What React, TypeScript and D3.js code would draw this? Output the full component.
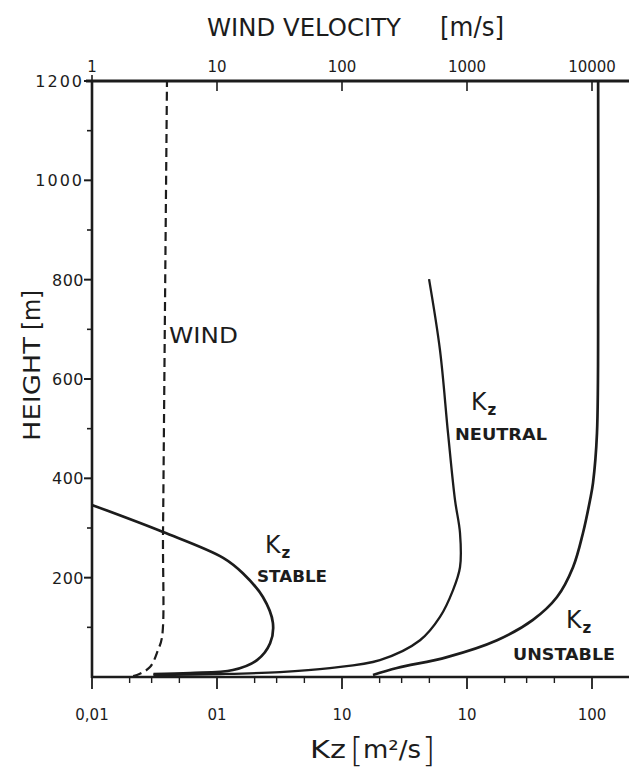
import React from "react";
import * as d3 from "d3";

const W = 629;
const H = 778;

// axis values
const heightMajor = [200, 400, 600, 800, 1000, 1200];
const heightLabels = ["200", "400", "600", "800", "1000", "1200"];
const heightMinor = [100, 300, 500, 700, 900, 1100];
const kzMajor = [0.01, 0.1, 1, 10, 100];
const kzLabels = ["0,01", "01", "10", "10", "100"];
const kzMinor = [0.02, 0.03, 0.05, 0.2, 0.3, 0.5, 2, 3, 5, 20, 30, 50];
const windMajor = [1, 10, 100, 1000, 10000];
const windLabels = ["1", "10", "100", "1000", "10000"];

// curves (height in m, value)
const windH = [2, 4, 20, 54, 80, 292, 759, 1200];
const windV = [2.13, 2.29, 2.91, 3.37, 3.63, 3.7, 3.84, 3.98];

const stableH = [346, 292, 240, 209, 161, 109, 68, 34, 14, 8, 6];
const stableK = [0.0101, 0.037, 0.112, 0.161, 0.233, 0.28, 0.266, 0.209, 0.134, 0.061, 0.031];

const neutralH = [801, 658, 491, 356, 290, 221, 175, 121, 74, 34, 18, 10, 6, 4];
const neutralK = [4.97, 6.08, 7.05, 8.02, 8.79, 8.79, 7.73, 6.08, 4.21, 2.01, 0.8, 0.319, 0.106, 0.031];

const unstableH = [1200, 800, 491, 391, 356, 290, 221, 161, 115, 74, 40, 18, 4];
const unstableK = [112, 112, 109.6, 101.9, 96.4, 84.7, 70.5, 52.5, 33.7, 17.4, 6.92, 2.75, 1.77];

const FONT = "DejaVu Sans, Liberation Sans, sans-serif";
const INK = "#1c1c1c";

export default function App() {
  const x = d3.scaleLog().domain([0.01, 100]).range([92, 592]);
  const xw = d3.scaleLog().domain([1, 10000]).range([92, 592]);
  const y = d3.scaleLinear().domain([0, 1200]).range([677, 81]);
  const xEnd = 629;

  const kzLine = d3
    .line<[number, number]>()
    .x((d) => x(d[0]))
    .y((d) => y(d[1]))
    .curve(d3.curveCatmullRom.alpha(0.5));
  const windLine = d3
    .line<[number, number]>()
    .x((d) => xw(d[0]))
    .y((d) => y(d[1]))
    .curve(d3.curveCatmullRom.alpha(0.5));

  const zip = (a: number[], b: number[]) => a.map((v, i) => [v, b[i]] as [number, number]);

  const y0 = y(0);
  const y1 = y(1200);
  const x0 = x(0.01);

  const Kz = (xx: number, yy: number, size = 25, zsize = 15) => (
    <g>
      <text x={xx} y={yy} fontSize={size} fontFamily={FONT} fill={INK} textLength={size * 0.62} lengthAdjust="spacingAndGlyphs">
        K
      </text>
      <text x={xx + size * 0.66} y={yy + 5} fontSize={zsize} fontFamily={FONT} fill={INK} fontWeight="bold">
        z
      </text>
    </g>
  );

  return (
    <svg width={W} height={H} style={{ position: "absolute", left: 0, top: 0, background: "#fff" }}>
      <rect x={0} y={0} width={W} height={H} fill="#fff" />
      {/* title */}
      <text x={207} y={36} fontSize={25} fontFamily={FONT} fill={INK} textLength={194} lengthAdjust="spacingAndGlyphs">
        WIND VELOCITY
      </text>
      <text x={440} y={36} fontSize={26} fontFamily={FONT} fill={INK} textLength={64} lengthAdjust="spacingAndGlyphs">
        [m/s]
      </text>

      {/* axes lines */}
      <line x1={x0} y1={y0} x2={xEnd} y2={y0} stroke={INK} strokeWidth={2.6} />
      <line x1={86} y1={y1} x2={xEnd} y2={y1} stroke={INK} strokeWidth={2.8} />
      <line x1={x0} y1={y1 - 1} x2={x0} y2={y0 + 1} stroke={INK} strokeWidth={2.6} />

      {/* left ticks */}
      {heightMajor.map((h) => (
        <line key={"hm" + h} x1={x0 - 8} x2={x0} y1={y(h)} y2={y(h)} stroke={INK} strokeWidth={2} />
      ))}
      {heightMinor.map((h) => (
        <line key={"hn" + h} x1={x0 - 5} x2={x0} y1={y(h)} y2={y(h)} stroke={INK} strokeWidth={1.6} />
      ))}
      {heightMajor.map((h, i) => (
        <text
          key={"hl" + h}
          x={x0 - 8}
          y={y(h) + 6}
          textAnchor="end"
          fontSize={16}
          fontFamily={FONT}
          fill={INK}
          letterSpacing={h >= 1000 ? 2 : 0.5}
        >
          {heightLabels[i]}
        </text>
      ))}

      {/* bottom ticks */}
      {kzMajor.map((k) => (
        <line key={"km" + k} x1={x(k)} x2={x(k)} y1={y0} y2={y0 + 12} stroke={INK} strokeWidth={1.8} />
      ))}
      {kzMinor.map((k) => (
        <line key={"kn" + k} x1={x(k)} x2={x(k)} y1={y0} y2={y0 + 6} stroke={INK} strokeWidth={1.4} />
      ))}
      {kzMajor.map((k, i) => (
        <text key={"kl" + k} x={x(k)} y={720} textAnchor="middle" fontSize={15} fontFamily={FONT} fill={INK}>
          {kzLabels[i]}
        </text>
      ))}

      {/* top ticks */}
      {windMajor.map((v) =>
        v === 1 ? (
          <line key={"wm" + v} x1={xw(v)} x2={xw(v)} y1={y1} y2={y1 - 6} stroke={INK} strokeWidth={1.6} />
        ) : (
          <line key={"wm" + v} x1={xw(v)} x2={xw(v)} y1={y1} y2={y1 + 10} stroke={INK} strokeWidth={1.6} />
        )
      )}
      {windMajor.map((v, i) => (
        <text key={"wl" + v} x={xw(v)} y={72} textAnchor="middle" fontSize={15} fontFamily={FONT} fill={INK}>
          {windLabels[i]}
        </text>
      ))}

      {/* curves */}
      <path
        d={windLine(zip(windV, windH)) || ""}
        fill="none"
        stroke={INK}
        strokeWidth={2.2}
        strokeDasharray="9,5"
      />
      <path d={kzLine(zip(stableK, stableH)) || ""} fill="none" stroke={INK} strokeWidth={2.7} />
      <path d={kzLine(zip(neutralK, neutralH)) || ""} fill="none" stroke={INK} strokeWidth={2.3} />
      <path d={kzLine(zip(unstableK, unstableH)) || ""} fill="none" stroke={INK} strokeWidth={2.7} />

      {/* in-plot labels */}
      <text x={169} y={343} fontSize={21} fontFamily={FONT} fill={INK} textLength={69} lengthAdjust="spacingAndGlyphs">
        WIND
      </text>
      {Kz(265, 553)}
      <text x={257} y={582} fontSize={15} fontFamily={FONT} fill={INK} fontWeight="bold" textLength={70} lengthAdjust="spacingAndGlyphs">
        STABLE
      </text>
      {Kz(471, 410)}
      <text x={455} y={440} fontSize={15} fontFamily={FONT} fill={INK} fontWeight="bold" textLength={92} lengthAdjust="spacingAndGlyphs">
        NEUTRAL
      </text>
      {Kz(566, 628)}
      <text x={513} y={660} fontSize={15} fontFamily={FONT} fill={INK} fontWeight="bold" textLength={102} lengthAdjust="spacingAndGlyphs">
        UNSTABLE
      </text>

      {/* y title */}
      <g transform="translate(40,441) rotate(-90)">
        <text x={0} y={0} fontSize={23} fontFamily={FONT} fill={INK} textLength={104} lengthAdjust="spacingAndGlyphs">
          HEIGHT
        </text>
        <text x={111} y={0} fontSize={24} fontFamily={FONT} fill={INK} textLength={40} lengthAdjust="spacingAndGlyphs">
          [m]
        </text>
      </g>

      {/* x title */}
      <text x={310} y={758} fontSize={25} fontFamily={FONT} fill={INK} textLength={36} lengthAdjust="spacingAndGlyphs">
        Kz
      </text>
      <text x={350} y={762} fontSize={34} fontFamily={FONT} fill={INK} fontWeight={300}>
        [
      </text>
      <text x={363} y={758} fontSize={25} fontFamily={FONT} fill={INK} textLength={58} lengthAdjust="spacingAndGlyphs">
        m²/s
      </text>
      <text x={422} y={762} fontSize={34} fontFamily={FONT} fill={INK} fontWeight={300}>
        ]
      </text>
    </svg>
  );
}
